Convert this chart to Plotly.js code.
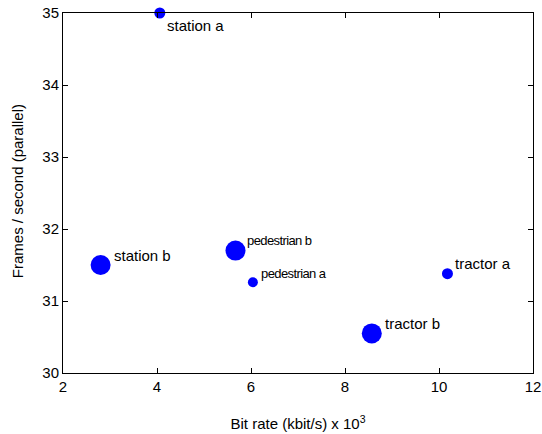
<!DOCTYPE html>
<html><head><meta charset="utf-8">
<script src="https://cdn.plot.ly/plotly-3.0.1.min.js"></script>
<style>html,body{margin:0;padding:0;background:#fff}#chart{width:542px;height:434px}</style>
</head><body><div id="chart"></div>
<script>
const labels = ["station a", "station b", "pedestrian b", "pedestrian a", "tractor a", "tractor b"];
const bitRate = [4.06, 2.8, 5.67, 6.04, 10.18, 8.57];
const fps = [35.0, 31.5, 31.7, 31.26, 31.38, 30.55];
const xTicks = [2, 4, 6, 8, 10, 12];
const yTicks = [30, 31, 32, 33, 34, 35];

// styling (not data)
const markerSizes = [11, 20, 20, 10, 11, 20];
const labelDx = [5, 11, 10, 6, 6, 11];
const labelDy = [-12, 10, 10, 9, 10, 10];
const labelCondensed = [false, false, true, true, false, false];

const font = "Liberation Sans, Arial, sans-serif";

const trace = {
  x: bitRate, y: fps, mode: "markers", type: "scatter",
  marker: {color: "#0000ff", size: markerSizes, opacity: 1, line: {width: 0}},
  cliponaxis: false, hoverinfo: "none"
};

const annotations = labels.map((t, i) => ({
  x: bitRate[i], y: fps[i], xref: "x", yref: "y",
  text: labelCondensed[i] ? "<span style=\"letter-spacing:-0.6px\">" + t + "</span>" : t,
  showarrow: false, xanchor: "left", yanchor: "middle",
  xshift: labelDx[i], yshift: labelDy[i],
  font: {family: font, size: labelCondensed[i] ? 13 : 15, color: "#000"}
}));
annotations.push({
  xref: "paper", yref: "paper", x: 0, y: 0.505, xshift: -46,
  text: "Frames / second (parallel)", textangle: -90, showarrow: false,
  xanchor: "center", yanchor: "middle",
  font: {family: font, size: 15, color: "#000"}
});

const axisCommon = {
  showgrid: false, zeroline: false, showline: true, mirror: "ticks",
  linecolor: "#000", linewidth: 1, ticks: "inside", ticklen: 5, tickcolor: "#000",
  tickfont: {family: font, size: 15, color: "#000"}
};
const layout = {
  width: 542, height: 434,
  margin: {l: 63, r: 9, t: 13, b: 61},
  paper_bgcolor: "#fff", plot_bgcolor: "#fff",
  showlegend: false,
  annotations: annotations,
  xaxis: Object.assign({}, axisCommon, {
    range: [2, 12], tickvals: xTicks, ticktext: xTicks.map(String),
    title: {text: "Bit rate (kbit/s) x 10<sup>3</sup>", font: {family: font, size: 15, color: "#000"}, standoff: 24}
  }),
  yaxis: Object.assign({}, axisCommon, {
    range: [30, 35], tickvals: yTicks, ticktext: yTicks.map(String)
  })
};
Plotly.newPlot("chart", [trace], layout, {displayModeBar: false, staticPlot: true});
</script></body></html>
